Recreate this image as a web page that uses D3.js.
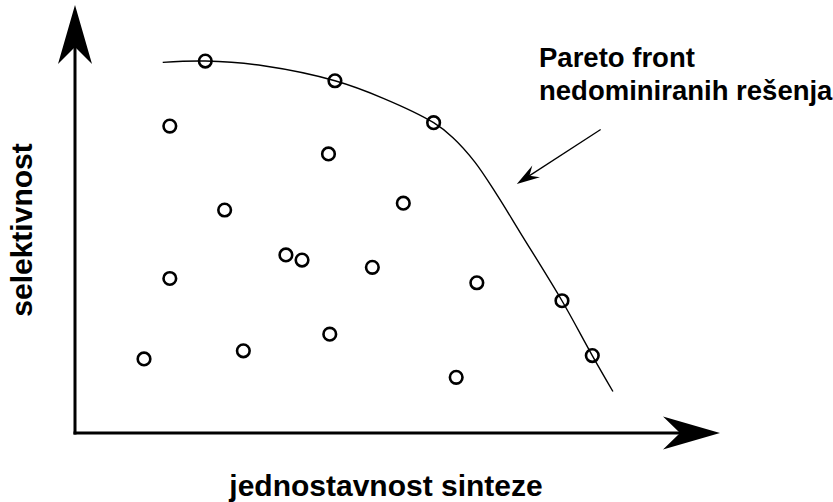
<html>
    <head>
        <title>Pareto front</title>
        <script src="https://cdn.jsdelivr.net/npm/d3@7/dist/d3.min.js"></script>
        <style type="text/css">
            body{
                margin: 0;
                background: white;
            }
            svg{
                display: block;
            }
            text{
                font-family: "Liberation Sans", Arial, sans-serif;
                font-weight: bold;
                fill: black;
            }
        </style>
    </head>

    <body>
        <svg id="svg"></svg>

        <script type="text/javascript">
            //solutions (x = jednostavnost sinteze, y = selektivnost)
            var pointsX = [20.2, 40.3, 55.6, 75.5, 80.2, 14.7, 39.3, 23.2, 50.9, 32.7, 35.2, 46.1, 14.7, 62.3, 39.5, 26.1, 10.7, 59.1];
            var pointsY = [86.9, 82.3, 72.5, 30.9, 18.1, 71.7, 65.2, 52.1, 53.7, 41.6, 40.4, 38.7, 36.1, 35.1, 23.1, 19.2, 17.3, 13.0];

            //pareto front curve
            var frontX = [13.6, 20.2, 29.2, 40.3, 47.8, 55.6, 58.6, 62.0, 65.4, 69.0, 75.5, 80.2, 83.4];
            var frontY = [86.6, 86.9, 85.8, 82.3, 78.2, 72.5, 69.0, 63.3, 55.7, 46.9, 30.9, 18.1, 9.7];

            //labels
            var xLabel = "jednostavnost sinteze";
            var yLabel = "selektivnost";
            var noteLines = ["Pareto front", "nedominiranih rešenja"];

            //pointer from label to curve
            var pointerX = [81.5, 68.5];
            var pointerY = [70.9, 58.2];

            var svgWidth = 833;
            var svgHeight = 502;

            var svg = d3.select("svg")
                .attr("width", svgWidth)
                .attr("height", svgHeight);

            //scales, axis ends are at the arrow tips
            var xScale = d3.scaleLinear()
                .domain([0, 100])
                .range([75, 720]);

            var yScale = d3.scaleLinear()
                .domain([0, 100])
                .range([433, 5]);

            //swept arrow head pointing along (dx,dy)
            function arrowHead(tx, ty, dx, dy, back, half, notch){
                var len = Math.sqrt(dx*dx + dy*dy);
                var ux = dx/len, uy = dy/len;
                var px = -uy, py = ux;
                return "M" + tx + "," + ty +
                    "L" + (tx - ux*back + px*half) + "," + (ty - uy*back + py*half) +
                    "L" + (tx - ux*notch) + "," + (ty - uy*notch) +
                    "L" + (tx - ux*back - px*half) + "," + (ty - uy*back - py*half) + "Z";
            }

            var x0 = xScale(0), y0 = yScale(0);
            var xEnd = xScale.range()[1], yEnd = yScale.range()[1];

            //y axis
            svg.append("line")
                .attr("x1", x0).attr("y1", y0 + 1.5)
                .attr("x2", x0).attr("y2", yEnd + 40)
                .attr("stroke", "black")
                .attr("stroke-width", 3);
            svg.append("path")
                .attr("d", arrowHead(x0, yEnd, 0, -1, 59, 17, 42))
                .attr("fill", "black");

            //x axis
            svg.append("line")
                .attr("x1", x0 - 1.5).attr("y1", y0)
                .attr("x2", xEnd - 40).attr("y2", y0)
                .attr("stroke", "black")
                .attr("stroke-width", 3);
            svg.append("path")
                .attr("d", arrowHead(xEnd, y0, 1, 0, 57, 16.5, 40))
                .attr("fill", "black");

            //pareto front
            var line = d3.line()
                .x(function(d){ return xScale(d[0]); })
                .y(function(d){ return yScale(d[1]); })
                .curve(d3.curveCatmullRom.alpha(0.5));

            svg.append("path")
                .datum(d3.zip(frontX, frontY))
                .attr("d", line)
                .attr("fill", "none")
                .attr("stroke", "black")
                .attr("stroke-width", 1.4);

            //solutions
            svg.selectAll("circle")
                .data(d3.zip(pointsX, pointsY))
                .enter()
                .append("circle")
                .attr("cx", function(d){ return xScale(d[0]); })
                .attr("cy", function(d){ return yScale(d[1]); })
                .attr("r", 6.3)
                .attr("fill", "none")
                .attr("stroke", "black")
                .attr("stroke-width", 2.6);

            //pointer arrow
            var ax1 = xScale(pointerX[0]), ay1 = yScale(pointerY[0]);
            var ax2 = xScale(pointerX[1]), ay2 = yScale(pointerY[1]);
            svg.append("line")
                .attr("x1", ax1).attr("y1", ay1)
                .attr("x2", ax2 + (ax1 - ax2)*0.12).attr("y2", ay2 + (ay1 - ay2)*0.12)
                .attr("stroke", "black")
                .attr("stroke-width", 1.3);
            svg.append("path")
                .attr("d", arrowHead(ax2, ay2, ax2 - ax1, ay2 - ay1, 23, 7, 15))
                .attr("fill", "black");

            //annotation text
            svg.append("text")
                .attr("x", 539)
                .attr("y", 66.5)
                .style("font-size", "27.5px")
                .text(noteLines[0]);
            svg.append("text")
                .attr("x", 539)
                .attr("y", 99.5)
                .style("font-size", "27.5px")
                .text(noteLines[1]);

            //axis labels
            svg.append("text")
                .attr("x", 386)
                .attr("y", 496)
                .attr("text-anchor", "middle")
                .style("font-size", "30px")
                .text(xLabel);

            svg.append("text")
                .attr("transform", "translate(32,230) rotate(-90)")
                .attr("text-anchor", "middle")
                .style("font-size", "30px")
                .text(yLabel);
        </script>
    </body>
</html>
